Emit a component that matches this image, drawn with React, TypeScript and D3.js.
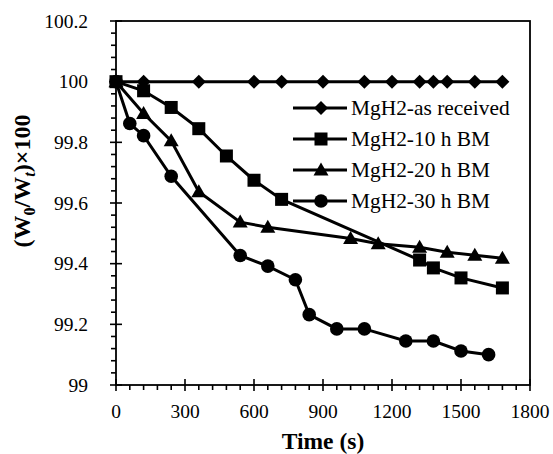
import React from "react";
import * as d3 from "d3";

const asReceivedT = [0, 120, 360, 600, 720, 900, 1080, 1200, 1320, 1380, 1440, 1560, 1680];
const asReceivedV = [100, 100, 100, 100, 100, 100, 100, 100, 100, 100, 100, 100, 100];
const bm10T = [0, 120, 240, 360, 480, 600, 720, 1320, 1380, 1500, 1680];
const bm10V = [100, 99.97, 99.915, 99.845, 99.755, 99.675, 99.612, 99.412, 99.386, 99.353, 99.32];
const bm20T = [0, 120, 240, 360, 540, 660, 1020, 1140, 1320, 1440, 1560, 1680];
const bm20V = [100, 99.895, 99.805, 99.637, 99.537, 99.52, 99.483, 99.466, 99.454, 99.438, 99.428, 99.418];
const bm30T = [0, 60, 120, 240, 540, 660, 780, 840, 960, 1080, 1260, 1380, 1500, 1620];
const bm30V = [100, 99.862, 99.822, 99.688, 99.427, 99.392, 99.347, 99.232, 99.185, 99.185, 99.145, 99.145, 99.112, 99.1];

const seriesNames = ["MgH2-as received", "MgH2-10 h BM", "MgH2-20 h BM", "MgH2-30 h BM"];
const markerTypes = ["diamond", "square", "triangle", "circle"];
const xTicks = [0, 300, 600, 900, 1200, 1500, 1800];
const yTicks = [99, 99.2, 99.4, 99.6, 99.8, 100, 100.2];

const FONT = "'Liberation Serif', 'Times New Roman', serif";

function Marker({ type, x, y }: { type: string; x: number; y: number }) {
  if (type === "diamond") {
    const r = 7;
    return <path d={`M${x},${y - r}L${x + r},${y}L${x},${y + r}L${x - r},${y}Z`} fill="#000" />;
  }
  if (type === "square") {
    const s = 13;
    return <rect x={x - s / 2} y={y - s / 2} width={s} height={s} fill="#000" />;
  }
  if (type === "triangle") {
    return <path d={`M${x},${y - 7.5}L${x + 7.5},${y + 5.5}L${x - 7.5},${y + 5.5}Z`} fill="#000" />;
  }
  return <circle cx={x} cy={y} r={6.8} fill="#000" />;
}

export default function App() {
  const W = 553, H = 454;
  const left = 116, right = 530, top = 21, bottom = 385;
  const x = d3.scaleLinear().domain([0, 1800]).range([left, right]);
  const y = d3.scaleLinear().domain([99, 100.2]).range([bottom, top]);

  const series = [
    { t: asReceivedT, v: asReceivedV },
    { t: bm10T, v: bm10V },
    { t: bm20T, v: bm20V },
    { t: bm30T, v: bm30V },
  ];
  const line = d3.line<[number, number]>().x((d) => x(d[0])).y((d) => y(d[1]));

  const xMinor = d3.range(0, 1800 + 1, 60).filter((t) => t % 300 !== 0);
  const yMinor = d3.range(0, 31).map((i) => 99 + i * 0.04).filter((_, i) => i % 5 !== 0);

  const legendY = [108, 139, 170, 201];

  return (
    <svg width={W} height={H} style={{ position: "absolute", left: 0, top: 0 }} fontFamily={FONT}>
      <rect x={0} y={0} width={W} height={H} fill="#fff" />
      {/* frame */}
      <rect x={left} y={top} width={right - left} height={bottom - top} fill="none" stroke="#000" strokeWidth={1.8} />
      {/* x ticks */}
      {xTicks.map((t) => (
        <g key={"xt" + t}>
          <line x1={x(t)} x2={x(t)} y1={bottom - 6} y2={bottom + 6} stroke="#000" strokeWidth={1.6} />
          <text x={x(t)} y={418} textAnchor="middle" fontSize={19.5}>{t}</text>
        </g>
      ))}
      {xMinor.map((t) => (
        <line key={"xm" + t} x1={x(t)} x2={x(t)} y1={bottom} y2={bottom + 5} stroke="#000" strokeWidth={1.6} />
      ))}
      {/* y ticks */}
      {yTicks.map((v) => (
        <g key={"yt" + v}>
          <line x1={left - 6} x2={left + 6} y1={y(v)} y2={y(v)} stroke="#000" strokeWidth={1.6} />
          <text x={88} y={y(v)} dy="0.35em" textAnchor="end" fontSize={19.5}>{v}</text>
        </g>
      ))}
      {yMinor.map((v) => (
        <line key={"ym" + v} x1={left - 5} x2={left} y1={y(v)} y2={y(v)} stroke="#000" strokeWidth={1.6} />
      ))}
      {/* series */}
      {series.map((s, i) => {
        const pts: [number, number][] = s.t.map((t, j) => [t, s.v[j]]);
        return (
          <g key={"s" + i}>
            <path d={line(pts) || ""} fill="none" stroke="#000" strokeWidth={3} />
            {pts.map((p, j) => (
              <Marker key={j} type={markerTypes[i]} x={x(p[0])} y={y(p[1])} />
            ))}
          </g>
        );
      })}
      {/* legend */}
      {seriesNames.map((name, i) => (
        <g key={"lg" + i}>
          <line x1={293} x2={347} y1={legendY[i]} y2={legendY[i]} stroke="#000" strokeWidth={3} />
          <Marker type={markerTypes[i]} x={321} y={legendY[i]} />
          <text x={351} y={legendY[i]} dy="0.35em" fontSize={21.4}>{name}</text>
        </g>
      ))}
      {/* axis titles */}
      <text x={(left + right) / 2} y={449} textAnchor="middle" fontSize={23.5} fontWeight="bold">Time (s)</text>
      <text transform="translate(30,181) rotate(-90)" textAnchor="middle" fontSize={24} fontWeight="bold">
        (W<tspan fontSize={16} dy={5}>0</tspan><tspan dy={-5}>/W</tspan><tspan fontSize={16} dy={5} fontStyle="italic">t</tspan><tspan dy={-5}>)×100</tspan>
      </text>
    </svg>
  );
}
